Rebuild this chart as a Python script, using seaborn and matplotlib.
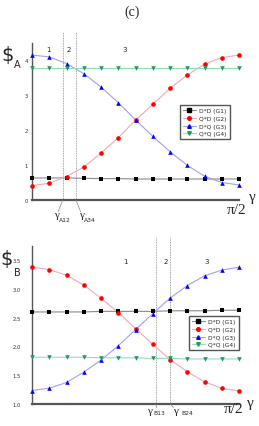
import numpy as np
import pandas as pd
import matplotlib
matplotlib.use("Agg")
import matplotlib.pyplot as plt
import seaborn as sns

sns.set_style("white")
plt.rcParams['font.family'] = ['DejaVu Sans']

# ---- data ----
n_pts = 13
gamma = np.linspace(0, np.pi / 2, n_pts)
series = ["D*D (G1)", "Q*D (G2)", "D*Q (G3)", "Q*Q (G4)"]

A_G1 = [0.63, 0.63, 0.63, 0.62, 0.61, 0.61, 0.60, 0.60, 0.60, 0.60, 0.60, 0.60, 0.60]
A_G2 = [0.41, 0.48, 0.67, 0.94, 1.34, 1.78, 2.28, 2.73, 3.19, 3.57, 3.88, 4.07, 4.14]
A_G3 = [4.14, 4.09, 3.90, 3.61, 3.23, 2.78, 2.29, 1.82, 1.38, 0.99, 0.68, 0.50, 0.43]
A_G4 = [3.76] * 13

B_G1 = [2.60, 2.60, 2.60, 2.60, 2.61, 2.61, 2.61, 2.61, 2.62, 2.62, 2.62, 2.63, 2.63]
B_G2 = [3.38, 3.34, 3.24, 3.07, 2.84, 2.59, 2.31, 2.04, 1.77, 1.56, 1.38, 1.27, 1.22]
B_G3 = [1.23, 1.27, 1.37, 1.55, 1.76, 2.01, 2.29, 2.57, 2.84, 3.06, 3.23, 3.33, 3.38]
B_G4 = [1.81, 1.81, 1.81, 1.81, 1.80, 1.80, 1.80, 1.79, 1.79, 1.78, 1.78, 1.78, 1.78]

A_marks = [0.233, 0.334]
A_mark_labels = ["A12", "A34"]
B_marks = [0.941, 1.05]
B_mark_labels = ["B13", "B24"]

line_colors = ["#8a8a8a", "#f0a8b8", "#a0a0f0", "#98dcb8"]
mark_colors = ["black", "red", "blue", "#1a9a6a"]
markers = ["s", "o", "^", "v"]

W, H = 259, 427
PT = 0.72  # points per pixel at dpi 100
SERIF = "Liberation Serif"


def fx(px):
    return px / W


def fy(py):
    return 1 - py / H


def long_df(vals):
    rows = []
    for name, v in zip(series, vals):
        for g, y in zip(gamma, v):
            rows.append((g, y, name))
    return pd.DataFrame(rows, columns=["gamma", "value", "series"])


fig = plt.figure(figsize=(W / 100, H / 100), dpi=100)
axA = fig.add_axes([fx(32), fy(201), fx(239) - fx(32), fy(43.5) - fy(201)])
axB = fig.add_axes([fx(32), fy(404.7), fx(239) - fx(32), fy(247) - fy(404.7)])


def draw(ax, df):
    for i, name in enumerate(series):
        sub = df[df.series == name]
        sns.lineplot(data=sub, x="gamma", y="value", ax=ax, color=line_colors[i],
                     lw=0.8, legend=False, clip_on=False, zorder=2)
        sns.scatterplot(data=sub, x="gamma", y="value", ax=ax, color=mark_colors[i],
                        marker=markers[i], s=11, linewidth=0, legend=False,
                        clip_on=False, zorder=3)
    handles = [plt.Line2D([], [], color=line_colors[i], lw=0.8, marker=markers[i],
                          markerfacecolor=mark_colors[i], markeredgecolor=mark_colors[i],
                          markersize=2.6) for i in range(4)]
    return handles


def style(ax, ylim, yticks, yfmt, pad):
    ax.set_xlim(0, np.pi / 2)
    ax.set_ylim(*ylim)
    ax.set_xticks([])
    ax.set_yticks(yticks)
    ax.set_yticklabels([yfmt.format(t) for t in yticks], fontsize=3.8)
    ax.tick_params(axis="y", direction="out", length=2, width=0.6, pad=pad,
                   colors="#333333")
    ax.set_xlabel("")
    ax.set_ylabel("")
    for s in ["top", "right"]:
        ax.spines[s].set_visible(False)
    ax.spines["left"].set_color("#555555")
    ax.spines["left"].set_linewidth(1.0)
    ax.spines["bottom"].set_color("#555555")
    ax.spines["bottom"].set_linewidth(1.6)


def marks(ax, xs, labels, ymax, specs):
    for x, lab, (ldx, ldy, gdx, gdy, sdx, sdy) in zip(xs, labels, specs):
        ax.axvline(x, ymin=0, ymax=ymax, color="#888888", lw=0.6, ls=(0, (1, 1)),
                   clip_on=False, zorder=1)
        ax.annotate("", xy=(x, 0), xycoords=("data", "axes fraction"),
                    xytext=(ldx * PT, ldy * PT), textcoords="offset points",
                    arrowprops=dict(arrowstyle="-", color="#888888", lw=0.5,
                                    shrinkA=0, shrinkB=0))
        ax.annotate("γ", xy=(x, 0), xycoords=("data", "axes fraction"),
                    xytext=(gdx * PT, gdy * PT), textcoords="offset points",
                    fontsize=8, family=SERIF, ha="center", va="center")
        ax.annotate(lab, xy=(x, 0), xycoords=("data", "axes fraction"),
                    xytext=(sdx * PT, sdy * PT), textcoords="offset points",
                    fontsize=4.3, ha="center", va="center")


# top panel
dfA = long_df([A_G1, A_G2, A_G3, A_G4])
hA = draw(axA, dfA)
style(axA, (0, 4.5), [0, 1, 2, 3, 4], "{:.0f}", 1.0)
axA.set_yticks([0.5, 1.5, 2.5, 3.5], minor=True)
axA.tick_params(axis="y", which="minor", direction="out", length=1.2, width=0.5,
                colors="#333333")
marks(axA, A_marks, A_mark_labels, 1.067,
      [(-4.7, -12, -6.2, -14, 1.8, -19), (4.7, -12, 5.5, -14, 14, -19)])
axA.legend(hA, series, loc="upper left", bbox_to_anchor=(fx(180), fy(106)),
           bbox_transform=fig.transFigure, fontsize=4.3,
           frameon=True, fancybox=False, edgecolor="#555555", framealpha=1,
           borderpad=0.45, labelspacing=0.45, handlelength=2.2, handletextpad=0.6,
           borderaxespad=0)
for x, t in [(48, "1"), (69, "2"), (125, "3")]:
    fig.text(fx(x), fy(50), t, fontsize=5, ha="center", va="center")
fig.text(fx(7.5), fy(55.5), r"\$", fontsize=14, ha="center", va="center")
fig.text(fx(17.5), fy(65.5), "A", fontsize=7, ha="center", va="center")
fig.text(fx(237), fy(211), "π/2", fontsize=11, family=SERIF, ha="center", va="center")
fig.text(fx(252), fy(197), "γ", fontsize=11, family=SERIF, ha="center", va="center")

# bottom panel
dfB = long_df([B_G1, B_G2, B_G3, B_G4])
hB = draw(axB, dfB)
style(axB, (1.0, 3.75), [1.0, 1.5, 2.0, 2.5, 3.0, 3.5], "{:.1f}", 6.0)
marks(axB, B_marks, B_mark_labels, 1.057,
      [(0.5, -4, -6.5, -6.5, 3.5, -9), (3, -4, 5.5, -6.5, 17, -9)])
axB.legend(hB, series, loc="upper left", bbox_to_anchor=(fx(189), fy(317)),
           bbox_transform=fig.transFigure, fontsize=4.3,
           frameon=True, fancybox=False, edgecolor="#555555", framealpha=1,
           borderpad=0.45, labelspacing=0.45, handlelength=2.2, handletextpad=0.6,
           borderaxespad=0)
for x, t in [(125, "1"), (166, "2"), (207, "3")]:
    fig.text(fx(x), fy(262), t, fontsize=5, ha="center", va="center")
fig.text(fx(7), fy(259.5), r"\$", fontsize=14, ha="center", va="center")
fig.text(fx(17), fy(273), "B", fontsize=7, ha="center", va="center")
fig.text(fx(234), fy(410), "π/2", fontsize=11, family=SERIF, ha="center", va="center")
fig.text(fx(250), fy(404), "γ", fontsize=11, family=SERIF, ha="center", va="center")

fig.text(fx(132), fy(12), "(c)", fontsize=10, family=SERIF, ha="center", va="center")

fig.savefig("out.png", dpi=100)
